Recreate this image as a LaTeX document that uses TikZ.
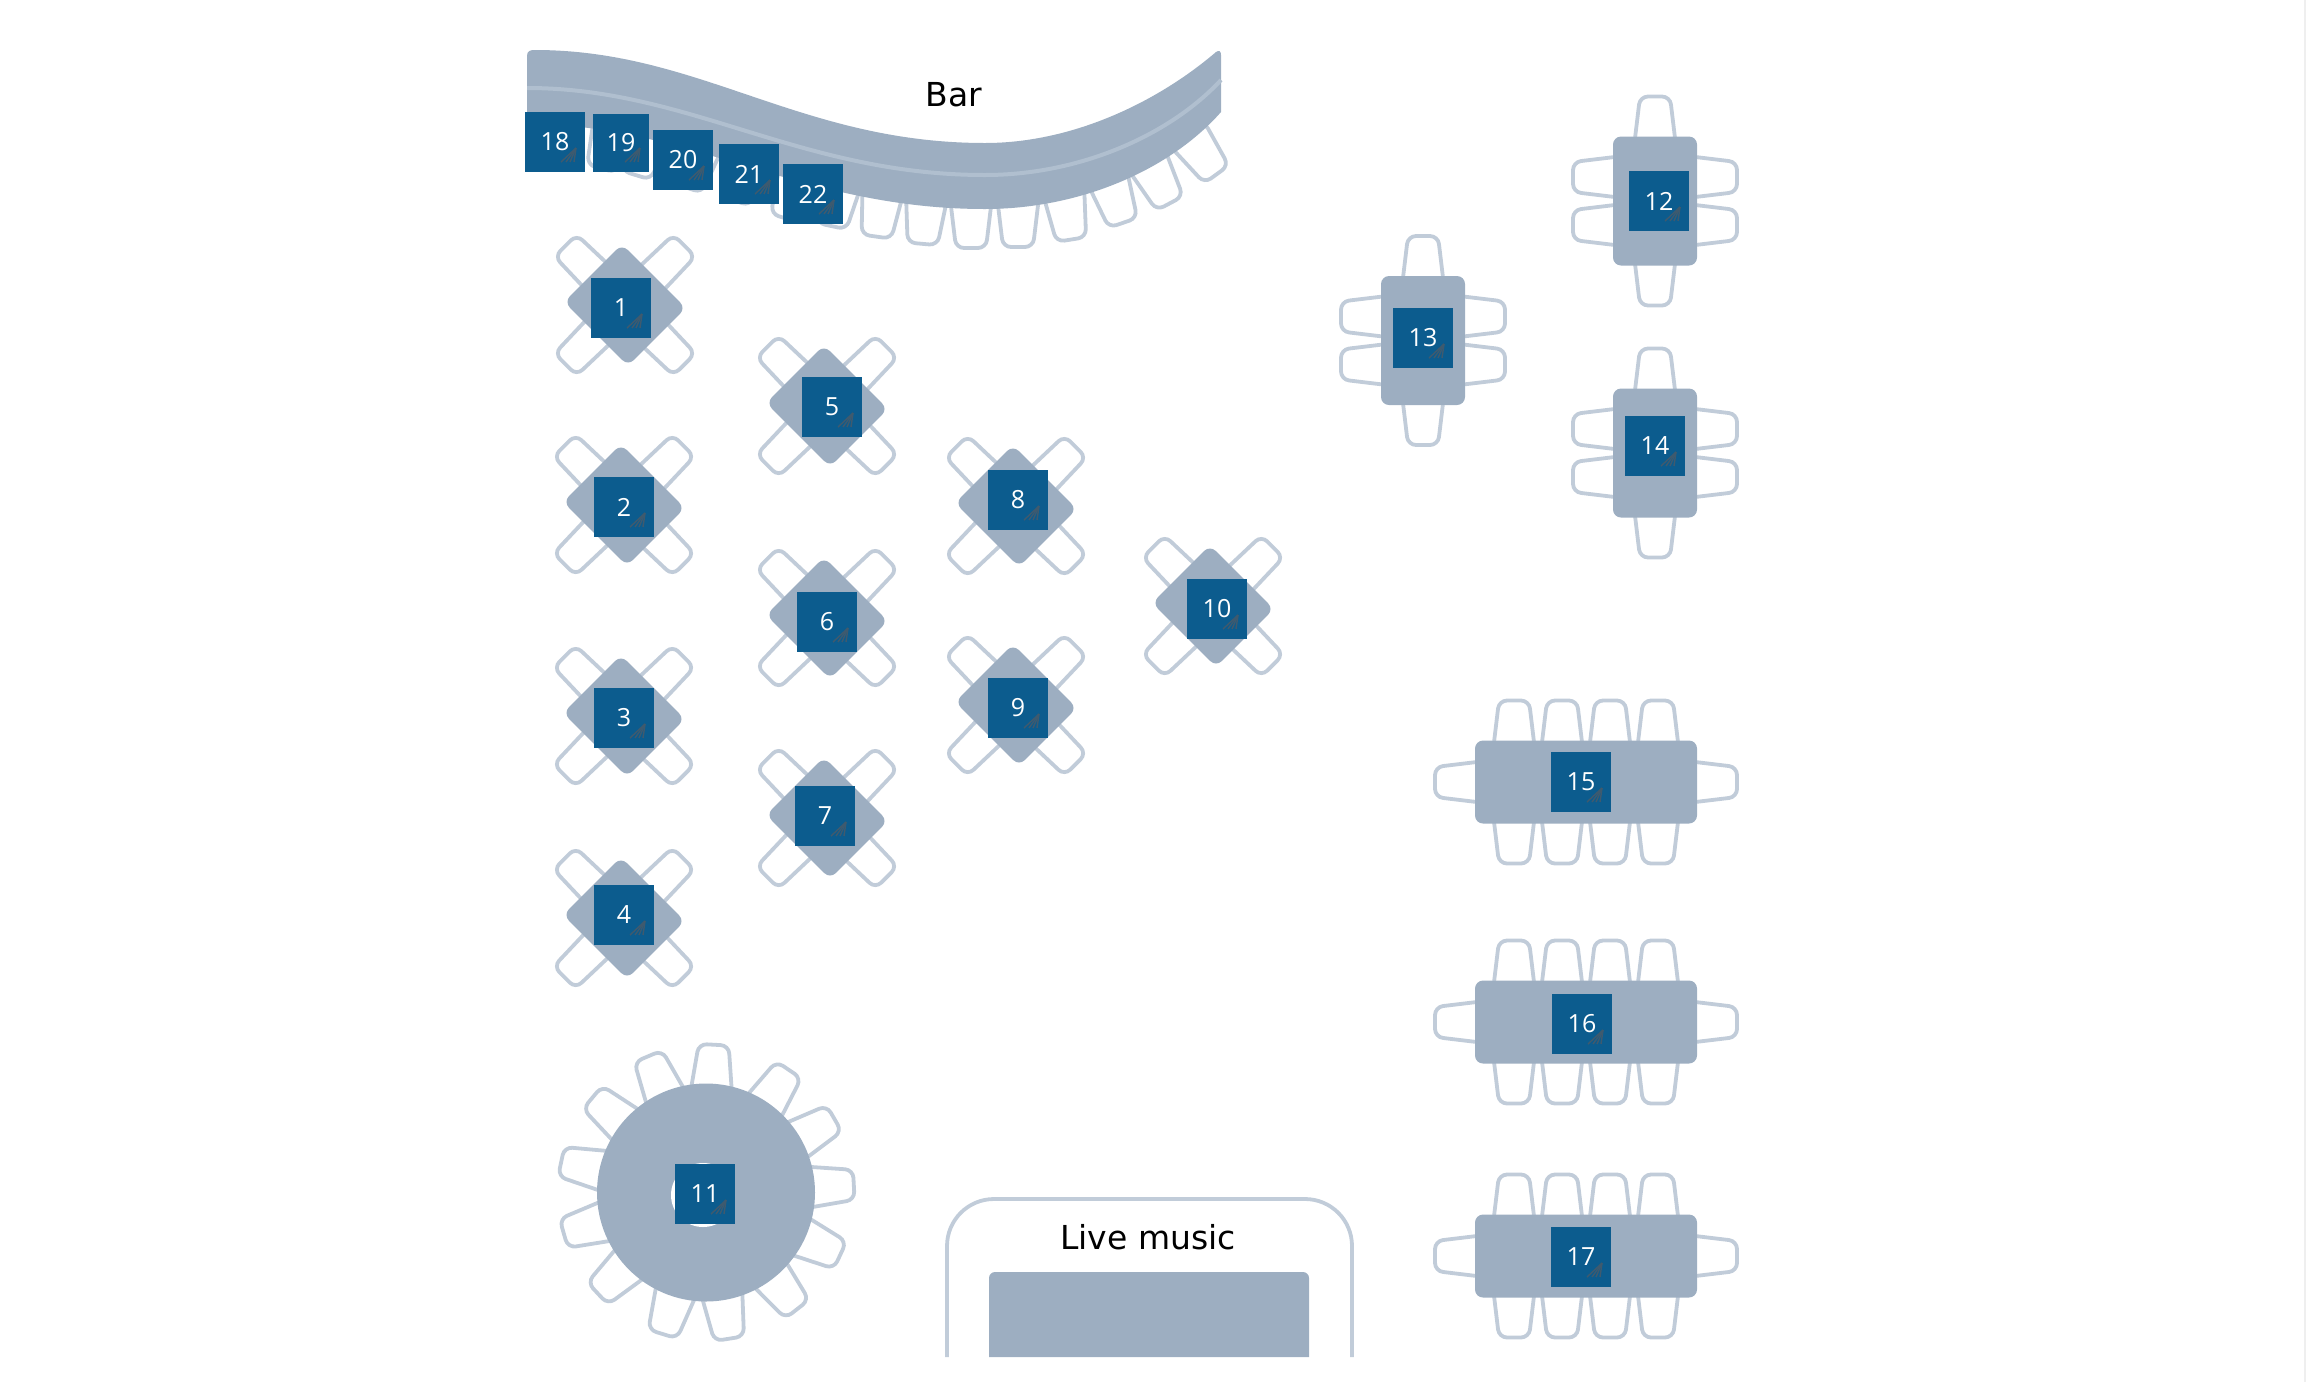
\documentclass[tikz,border=0pt]{standalone}
\usepackage{fontspec}
\setmainfont{DejaVu Sans}
\newfontfamily\badgefont{Open Sans}
\definecolor{tablefill}{HTML}{9DAEC1}
\definecolor{chairline}{HTML}{C1CCD9}
\definecolor{stripeline}{HTML}{B0BFCF}
\definecolor{badgeblue}{HTML}{0C5C8E}
\definecolor{handlegray}{HTML}{3F5A6E}
\definecolor{edgegray}{HTML}{EFEFEF}
\tikzset{
  chair/.pic={\draw[chairline,fill=white,line width=1.9pt,rounded corners=4pt] (-21,10) -- (-15,-40) -- (15,-40) -- (21,10) -- cycle;},
  stool/.pic={\draw[chairline,fill=white,line width=1.9pt,rounded corners=4pt] (-17,10) -- (-15.5,-41) -- (15.5,-41) -- (17,10) -- cycle;},
  diamondtable/.pic={
    \foreach \a in {45,135,225,315} {\pic[rotate=\a,shift={(0,-43)}] {stool};}
    \fill[tablefill,cm={1,-0.05,-0.05,1,(0,0)},rotate=45,rounded corners=4pt] (-43,-43) rectangle (43,43);
  },
  talltable/.pic={
    \pic at (0,-64.5) {chair};
    \pic[rotate=180] at (0,64.5) {chair};
    \foreach \cy in {-24,24} {
      \pic[rotate=90] at (-42,\cy) {chair};
      \pic[rotate=-90] at (42,\cy) {chair};
    }
    \fill[tablefill,rounded corners=4pt] (-42,-64.5) rectangle (42,64.5);
  },
  longtable/.pic={
    \foreach \cx in {-72,-24,24,72} {
      \pic at (\cx,-41.5) {chair};
      \pic[rotate=180] at (\cx,41.5) {chair};
    }
    \pic[rotate=90] at (-111,0) {chair};
    \pic[rotate=-90] at (111,0) {chair};
    \fill[tablefill,rounded corners=4pt] (-111,-41.5) rectangle (111,41.5);
  },
  roundtable/.pic={
    \foreach \a in {3,34,60,87,115,142,171,197,227,254,282,310,337} {\pic[rotate=-\a,shift={(0,-108)}] {chair};}
    \fill[tablefill] (0,0) circle (54.5pt);
    \fill[white] (-3,2.5) circle (16pt);
  },
  badge/.style={rectangle,fill=badgeblue,text=white,minimum size=30pt,inner sep=0pt,font=\badgefont\fontsize{12.5}{14}\selectfont,
    path picture={
      \foreach \hx in {-24,-19,-15,-11} {\draw[handlegray,line width=0.7pt] ([shift={(-9,-24)}]path picture bounding box.south east) -- ([shift={(\hx,-10)}]path picture bounding box.south east);}
    }},
  placelabel/.style={font=\fontsize{16.5}{18}\selectfont,text=black,inner sep=0pt}
}
\begin{document}
\begin{tikzpicture}[x=0.5pt,y=-0.5pt]
  \useasboundingbox (0,0) rectangle (2306,1382);
  \fill[edgegray] (2304,0) rectangle (2306,1382);

  \foreach \px/\py/\tilt in {1193/142/36,1151/168/28,1110/185/19,1065/200/9,1018/207/0,971/208/0,926/204/-5,882/197/-8,840/187/-12,797/180/-17,748/163/-18,700/150/-18,648/137/-17,612/130/-15} {
    \pic[rotate=180+\tilt] at (\px,\py) {chair};
  }
  \fill[tablefill] (527,124) -- (527,56) .. controls (527,51) and (530,50) .. (535,50)
    .. controls (700,50) and (800,143) .. (985,143)
    .. controls (1075,143) and (1160,100) .. (1216,52)
    .. controls (1219,50) and (1221,51) .. (1221,55) -- (1221,112)
    .. controls (1170,170) and (1080,209) .. (985,209)
    .. controls (800,209) and (690,124) .. (527,124) -- cycle;
  \draw[stripeline,line width=2pt] (527,88) .. controls (690,88) and (800,175) .. (985,175)
    .. controls (1080,175) and (1170,135) .. (1221,80);
  \node[placelabel] at (954,95) (barlabel) {Bar};

  \foreach \tx/\ty in {625/305,624/505,624/716,624/918,827/406,827/618,827/818,1016/506,1016/705,1213/606} {
    \pic at (\tx,\ty) {diamondtable};
  }
  \pic at (706,1192.5) {roundtable};
  \pic at (1655,201) {talltable};
  \pic at (1423,340.5) {talltable};
  \pic at (1655,453) {talltable};
  \pic at (1586,782) {longtable};
  \pic at (1586,1022) {longtable};
  \pic at (1586,1256) {longtable};

  \draw[chairline,line width=1.9pt,rounded corners=23.5pt] (947,1357) -- (947,1199) -- (1352,1199) -- (1352,1357);
  \fill[tablefill] (989,1357) [rounded corners=3pt] -- (989,1272) -- (1309,1272) [sharp corners] -- (1309,1357) -- cycle;
  \node[placelabel] at (1148,1237) (musiclabel) {Live music};

  \node[badge] at (621,308) (t1) {1};
  \node[badge] at (624,507) (t2) {2};
  \node[badge] at (624,718) (t3) {3};
  \node[badge] at (624,915) (t4) {4};
  \node[badge] at (832,407) (t5) {5};
  \node[badge] at (827,622) (t6) {6};
  \node[badge] at (825,816) (t7) {7};
  \node[badge] at (1018,500) (t8) {8};
  \node[badge] at (1018,708) (t9) {9};
  \node[badge] at (1217,609) (t10) {10};
  \node[badge] at (705,1194) (t11) {11};
  \node[badge] at (1659,201) (t12) {12};
  \node[badge] at (1423,338) (t13) {13};
  \node[badge] at (1655,446) (t14) {14};
  \node[badge] at (1581,782) (t15) {15};
  \node[badge] at (1582,1024) (t16) {16};
  \node[badge] at (1581,1257) (t17) {17};
  \node[badge] at (555,142) (t18) {18};
  \node[badge,minimum width=28pt,minimum height=29pt] at (621,143) (t19) {19};
  \node[badge] at (683,160) (t20) {20};
  \node[badge] at (749,174) (t21) {21};
  \node[badge] at (813,194) (t22) {22};
\end{tikzpicture}
\end{document}
